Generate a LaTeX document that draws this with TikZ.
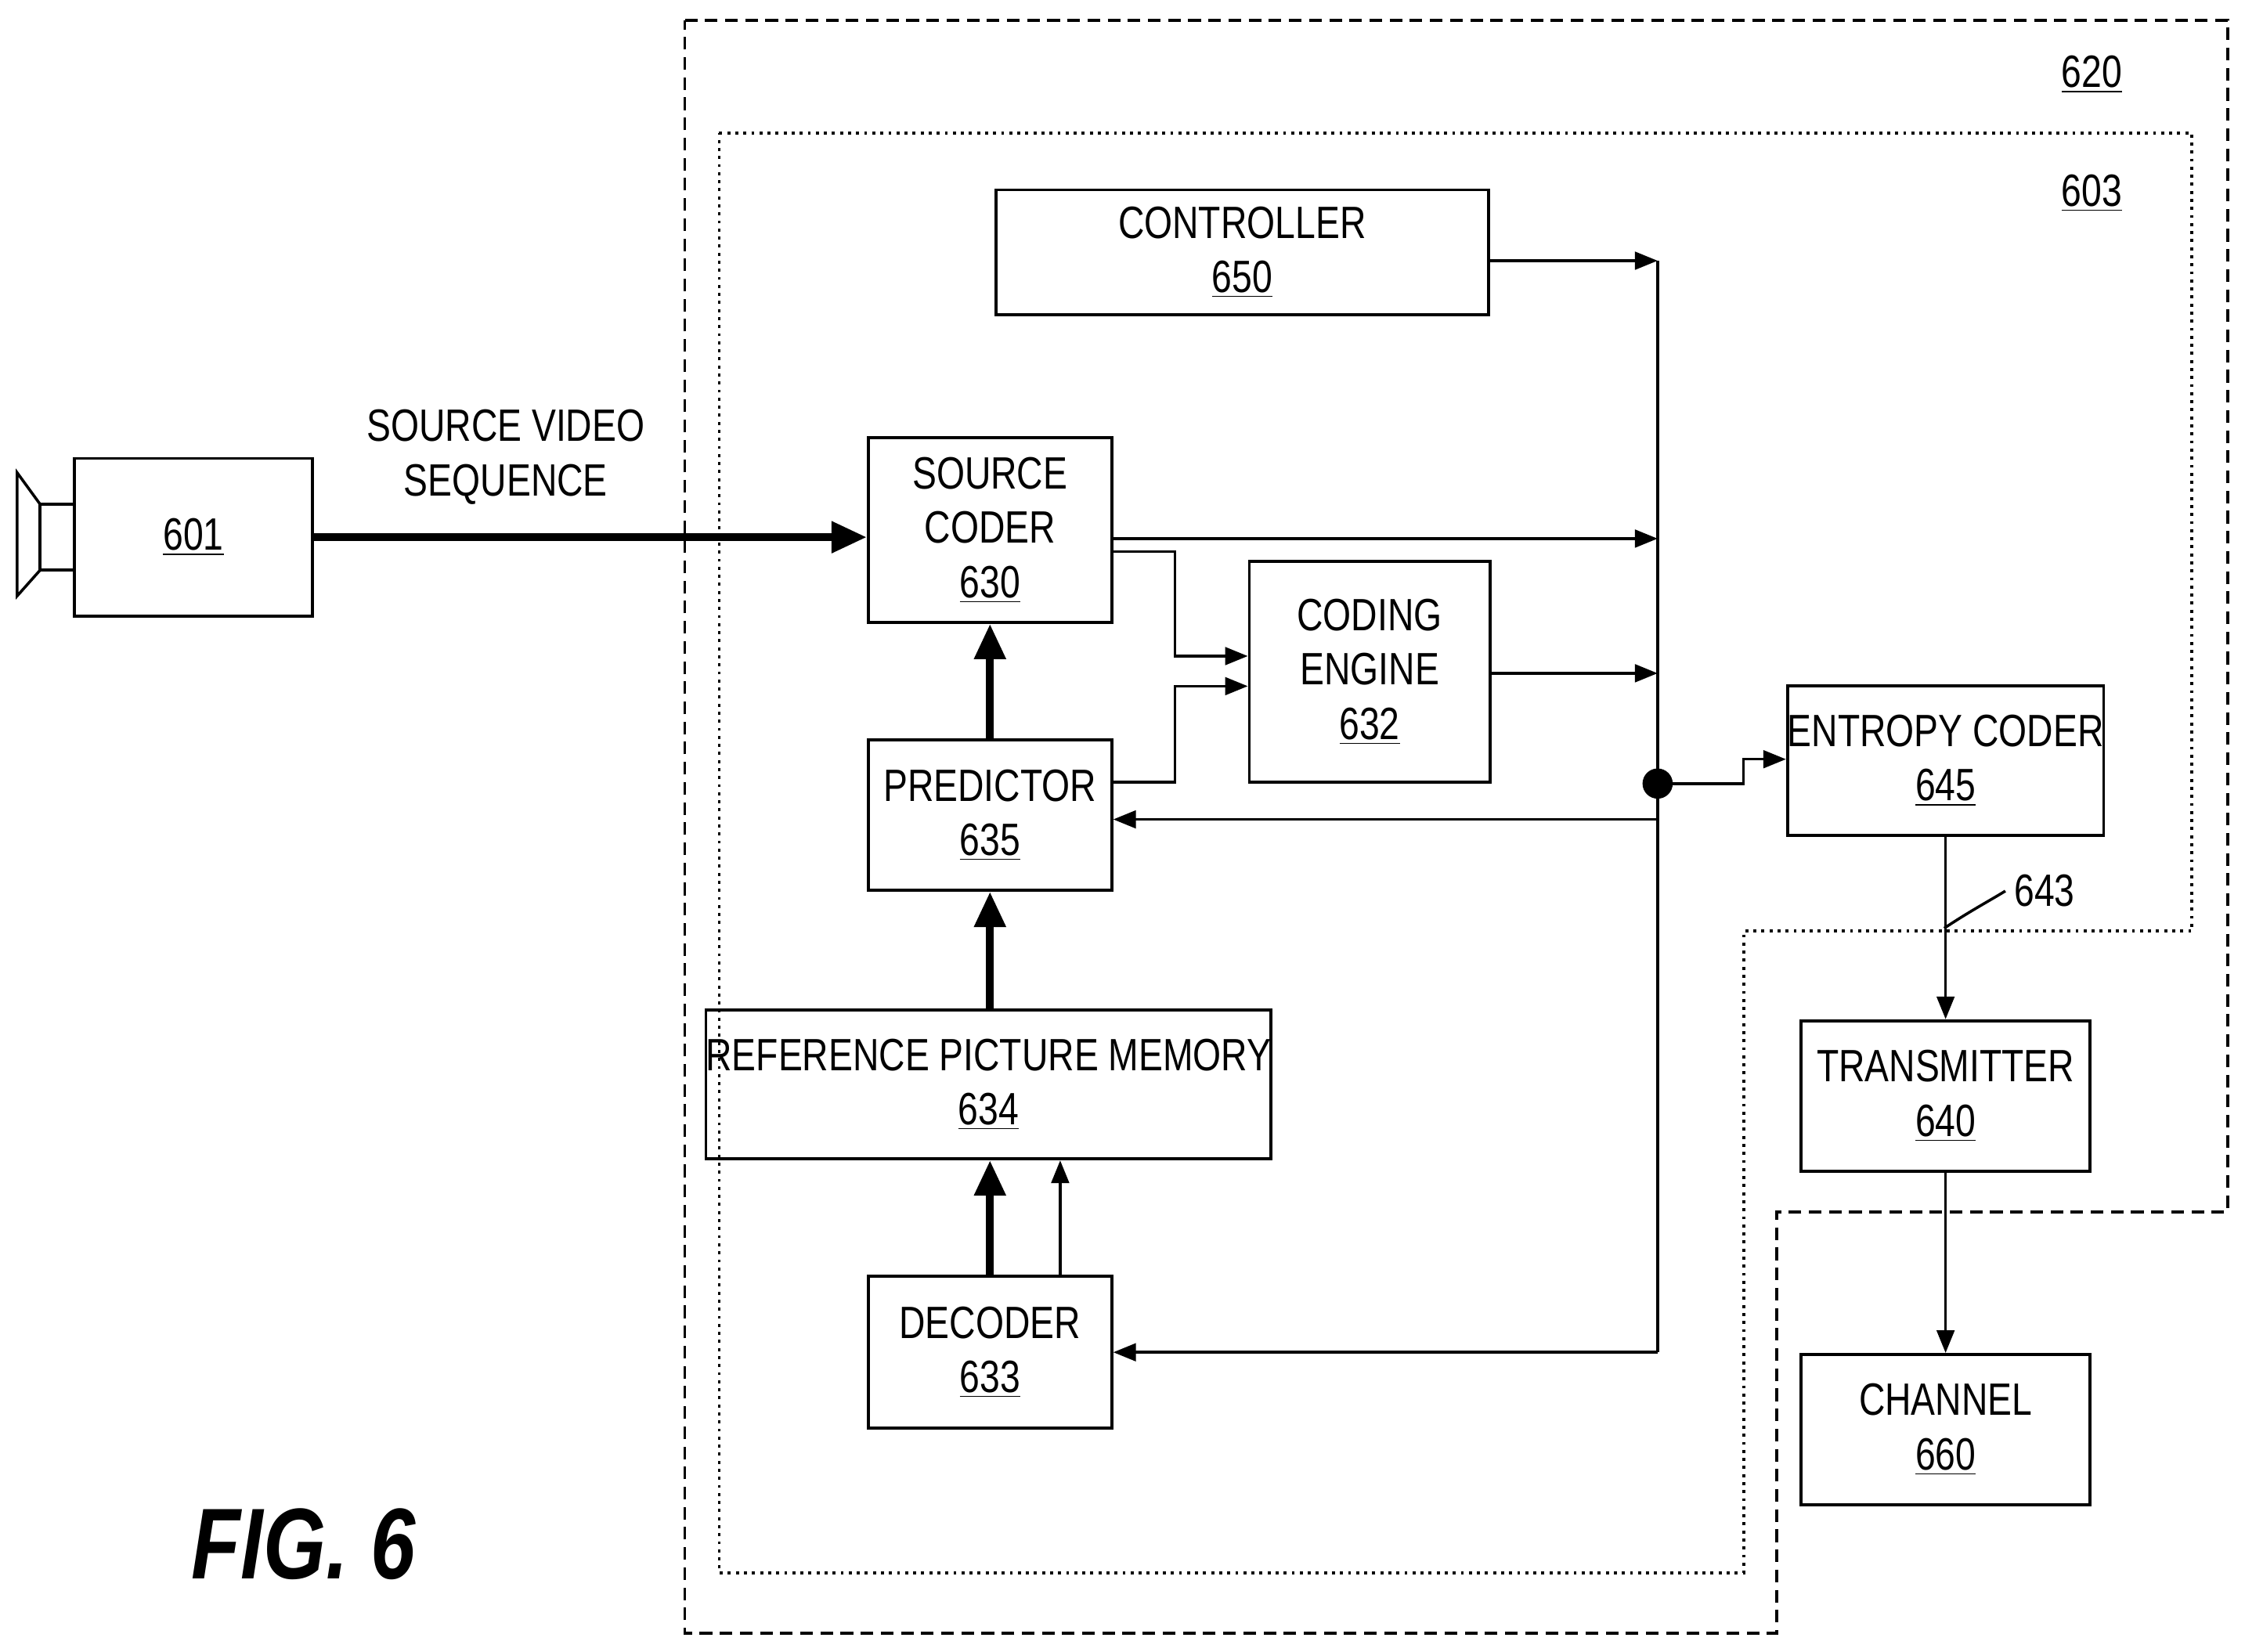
\documentclass[tikz,border=0pt]{standalone}
\usepackage{fontspec}
\setmainfont{Liberation Sans}[FakeStretch=0.8]
\usetikzlibrary{arrows.meta}
\tikzset{
  blk/.style={draw, line width=1.2pt, align=center, inner sep=0pt,
    font=\fontsize{18}{21.6}\selectfont},
  ln/.style={line width=1.1pt},
  arr/.style={ln, -{Triangle[length=9pt,width=7pt]}},
  thick arr/.style={line width=3pt, -{Triangle[length=14pt,width=12pt]}}
}
\newcommand{\num}[1]{\underline{#1}}
\begin{document}
\begin{tikzpicture}[x=0.02cm, y=-0.02cm]
\useasboundingbox (0,0) rectangle (1567,1153);

% enclosures
\draw[line width=1.2pt, dashed, dash pattern=on 5pt off 3pt] (478,14) -- (1555,14) -- (1555,846) -- (1240,846) -- (1240,1140) -- (478,1140) -- cycle;
\draw[line width=1.2pt, dotted] (502,93) -- (1530,93) -- (1530,650) -- (1217,650) -- (1217,1098) -- (502,1098) -- cycle;
\node[font=\fontsize{18}{20}\selectfont] at (1460,52) {\num{620}};
\node[font=\fontsize{18}{20}\selectfont] at (1460,135) {\num{603}};

% camera
\node[blk, minimum width=3.32cm, minimum height=2.2cm] (cam) at (135,375) {\num{601}};
\draw[ln] (28,352) rectangle (52,398);
\draw[ln] (28,352) -- (12,330) -- (12,416) -- (28,398);

% blocks
\node[blk, minimum width=6.88cm, minimum height=1.74cm] (ctrl) at (867,176) {CONTROLLER\\\num{650}};
\node[blk, minimum width=3.4cm, minimum height=2.58cm] (src) at (691,370) {SOURCE\\CODER\\\num{630}};
\node[blk, minimum width=3.36cm, minimum height=3.08cm] (eng) at (956,469) {CODING\\ENGINE\\\num{632}};
\node[blk, minimum width=3.4cm, minimum height=2.1cm] (pred) at (691,569) {PREDICTOR\\\num{635}};
\node[blk, minimum width=6.76cm, minimum height=2.08cm] (mem) at (690,757) {REFERENCE PICTURE MEMORY\\\num{634}};
\node[blk, minimum width=3.4cm, minimum height=2.12cm] (dec) at (691,944) {DECODER\\\num{633}};
\node[blk, minimum width=4.04cm, minimum height=2.08cm] (ent) at (1358,531) {ENTROPY CODER\\\num{645}};
\node[blk, minimum width=4.04cm, minimum height=2.1cm] (tx) at (1358,765) {TRANSMITTER\\\num{640}};
\node[blk, minimum width=4.04cm, minimum height=2.1cm] (chan) at (1358,998) {CHANNEL\\\num{660}};

\node[align=center, font=\fontsize{18}{21.6}\selectfont] at (353,319) {SOURCE VIDEO\\SEQUENCE};
\node[font=\fontsize{40}{46}\selectfont\bfseries\itshape] at (212,1078) {FIG. 6};

% bus
\coordinate (bt) at (1157,182);
\coordinate (bb) at (1157,944);
\coordinate (dot) at (1157,547);
\draw[ln] (bt) -- (bb);
\fill (dot) circle (6pt);

% connectors
\draw[thick arr] (cam.east) -- (src.west |- cam.east);
\draw[arr] (ctrl.east |- bt) -- (bt);
\draw[arr] (src.east |- 0,376) -- (1157,376);
\draw[arr] (eng.east |- 0,470) -- (1157,470);
\draw[arr] (src.east |- 0,385) -- (820,385) -- (820,458) -- (eng.west |- 0,458);
\draw[arr] (pred.east |- 0,546) -- (820,546) -- (820,479) -- (eng.west |- 0,479);
\draw[arr] (dot) -- (1217,547) -- (1217,530) -- (ent.west |- 0,530);
\draw[arr] (1157,572) -- (pred.east |- 0,572);
\draw[arr] (bb) -- (dec.east |- bb);
\draw[thick arr] (pred.north) -- (src.south);
\draw[thick arr] (mem.north -| pred) -- (pred.south);
\draw[thick arr] (dec.north) -- (mem.south -| dec);
\draw[arr] (dec.north -| 740,0) -- (mem.south -| 740,0);
\draw[arr] (ent.south) -- (tx.north);
\draw[arr] (tx.south) -- (chan.north);
\node[font=\fontsize{18}{20}\selectfont] (l643) at (1427,622) {643};
\draw[ln] (1357,648) .. controls (1375,636) and (1390,628) .. (l643.west);
\end{tikzpicture}
\end{document}
